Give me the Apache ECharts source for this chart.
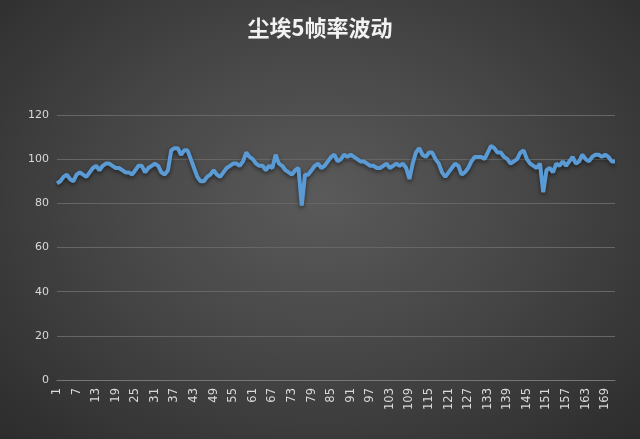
<!DOCTYPE html>
<html><head><meta charset="utf-8">
<script src="https://cdn.jsdelivr.net/npm/echarts@6/dist/echarts.min.js"></script>
<style>html,body{margin:0;padding:0;}#c{width:640px;height:439px;background:radial-gradient(ellipse at 50% 45%,#5a5a5a 0%,#474747 45%,#2c2c2c 100%);}</style>
</head><body><div id="c"></div>
<script>
const title = '尘埃5帧率波动';
const fps = [
89,90,92,93,91,90,93,94,93,92,
94,96,97,95,97,98,98,97,96,96,
95,94,94,93,95,97,97,94,96,97,
98,97,94,93,95,104,105,105,102,104,
104,100,96,92,90,90,92,93,95,93,
92,94,96,97,98,98,97,99,103,101,
100,98,97,97,95,97,96,102,98,97,
95,94,93,95,96,79,93,93,95,97,
98,96,97,99,101,102,99,100,102,101,
102,101,100,99,99,98,97,97,96,96,
97,98,96,97,98,97,98,96,91,98,
103,105,102,101,103,103,100,98,94,92,
94,96,98,97,93,94,96,99,101,101,
101,100,103,106,105,103,103,101,100,98,
99,100,103,104,100,98,97,96,98,85,
95,96,94,98,97,99,97,99,101,98,
99,102,100,99,101,102,102,101,102,101,99,99];
const categories = fps.map((v,i)=>String(i+1));
const chart = echarts.init(document.getElementById('c'));
chart.setOption({
  title:{text:title,left:'center',top:12,textStyle:{color:'#f2f2f2',fontSize:22,fontWeight:'bold',fontFamily:'Noto Sans CJK SC'}},
  grid:{left:57,right:25,top:115,bottom:59},
  xAxis:{type:'category',data:categories,boundaryGap:false,
    axisLine:{lineStyle:{color:'#777'}},axisTick:{show:false},
    axisLabel:{color:'#d9d9d9',fontSize:11.5,rotate:90,interval:5,fontFamily:'DejaVu Sans'}},
  yAxis:{type:'value',min:0,max:120,interval:20,
    axisLine:{show:false},axisTick:{show:false},
    splitLine:{lineStyle:{color:'#666'}},
    axisLabel:{color:'#d9d9d9',fontSize:11,fontFamily:'DejaVu Sans'}},
  series:[{type:'line',data:fps,showSymbol:false,
    lineStyle:{color:'#5b9bd5',width:4,shadowColor:'rgba(0,0,0,0.5)',shadowBlur:4,shadowOffsetY:2}}]
});
</script></body></html>
